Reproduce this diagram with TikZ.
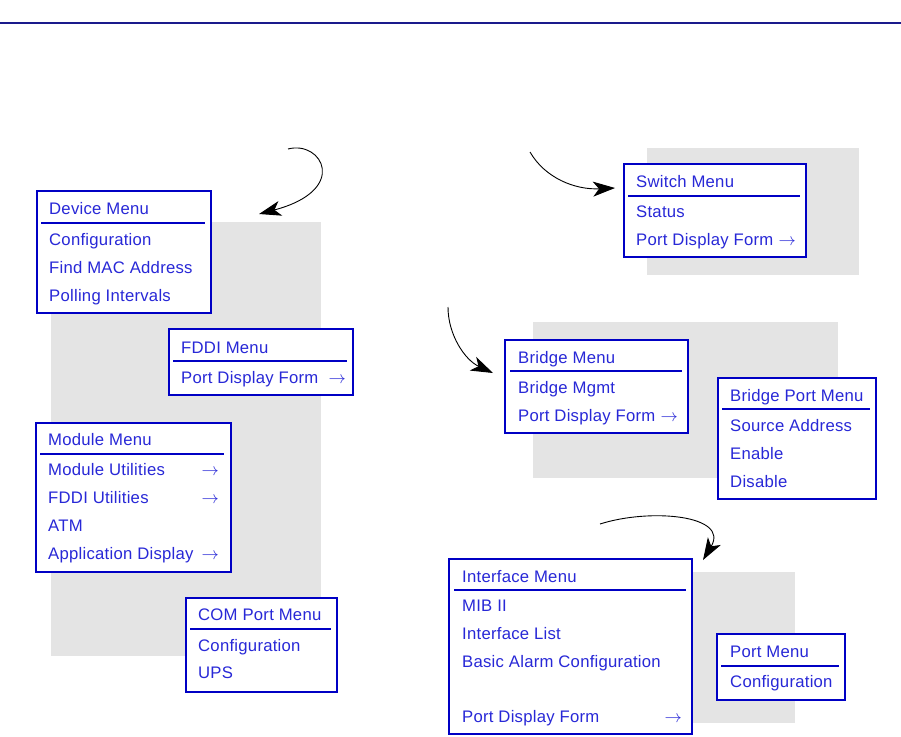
\documentclass[tikz,border=0pt]{standalone}
\usepackage{fontspec}
\setmainfont{Liberation Sans}[LetterSpace=1.5]
\usetikzlibrary{arrows.meta}
\definecolor{menublue}{RGB}{0,0,196}
\definecolor{txtblue}{RGB}{40,40,215}
\definecolor{bggray}{RGB}{228,228,228}
\definecolor{rule}{RGB}{26,26,140}
\newcommand{\mfont}{\fontsize{16.7}{20}\selectfont}
\tikzset{
  menubox/.style={draw=menublue, line width=2pt, fill=white, inner sep=0pt, anchor=north west},
  menusep/.style={draw=menublue, line width=2.2pt},
  mtext/.style={anchor=base west, text=txtblue, inner sep=0pt, font=\mfont},
  marr/.style={anchor=base east, text=txtblue, inner sep=0pt, font=\mfont},
  bgpanel/.style={fill=bggray, draw=none},
  flow/.style={-{Stealth[length=22pt,width=15pt,inset=6pt]}, line width=0.9pt, black}
}
\begin{document}
\begin{tikzpicture}[x=1pt,y=-1pt]
\useasboundingbox (0,0) rectangle (901,736);
\draw[rule, line width=1.2pt] (0,23) -- (901,23);
% gray panels
\fill[bgpanel] (51,222) rectangle (321,656);
\fill[bgpanel] (647,148) rectangle (859,275);
\fill[bgpanel] (533,322) rectangle (838,478);
\fill[bgpanel] (692,572) rectangle (795,723);
% Device Menu
\node[menubox, minimum width=174, minimum height=122] (dev) at (36,190) {};
\node[mtext] (dev0) at (49,214.5) {Device Menu};
\draw[menusep] (41,223) -- (205,223);
\node[mtext] (dev1) at (49,245.5) {Configuration};
\node[mtext] (dev2) at (49,273.5) {Find MAC Address};
\node[mtext] (dev3) at (49,301.5) {Polling Intervals};
% FDDI Menu
\node[menubox, minimum width=184, minimum height=66] (fddi) at (168,328) {};
\node[mtext] (fddi0) at (181,353.5) {FDDI Menu};
\draw[menusep] (173,361) -- (347,361);
\node[mtext] (fddi1) at (181,383.5) {Port Display Form};
\node[marr] (fddia) at (346,383.5) {$\rightarrow$};
% Module Menu
\node[menubox, minimum width=195, minimum height=149] (mod) at (35,422) {};
\node[mtext] (mod0) at (48,445.5) {Module Menu};
\draw[menusep] (40,454) -- (224,454);
\node[mtext] (mod1) at (48,475.5) {Module Utilities};
\node[marr] (moda1) at (219,475.5) {$\rightarrow$};
\node[mtext] (mod2) at (48,503.5) {FDDI Utilities};
\node[marr] (moda2) at (219,503.5) {$\rightarrow$};
\node[mtext] (mod3) at (48,531.5) {ATM};
\node[mtext] (mod4) at (48,559.5) {Application Display};
\node[marr] (moda4) at (219,559.5) {$\rightarrow$};
% COM Port Menu
\node[menubox, minimum width=151, minimum height=94] (com) at (185,597) {};
\node[mtext] (com0) at (198,620.5) {COM Port Menu};
\draw[menusep] (190,629) -- (331,629);
\node[mtext] (com1) at (198,651.5) {Configuration};
\node[mtext] (com2) at (198,678.5) {UPS};
% Switch Menu
\node[menubox, minimum width=182, minimum height=93] (sw) at (623,163) {};
\node[mtext] (sw0) at (636,187.5) {Switch Menu};
\draw[menusep] (628,196) -- (800,196);
\node[mtext] (sw1) at (636,217.5) {Status};
\node[mtext] (sw2) at (636,245.5) {Port Display Form};
\node[marr] (swa) at (796,245.5) {$\rightarrow$};
% Bridge Menu
\node[menubox, minimum width=183, minimum height=93] (br) at (504,339) {};
\node[mtext] (br0) at (518,363.5) {Bridge Menu};
\draw[menusep] (510,371) -- (682,371);
\node[mtext] (br1) at (518,393.5) {Bridge Mgmt};
\node[mtext] (br2) at (518,421.5) {Port Display Form};
\node[marr] (bra) at (678,421.5) {$\rightarrow$};
% Bridge Port Menu
\node[menubox, minimum width=158, minimum height=121] (bp) at (717,377) {};
\node[mtext] (bp0) at (730,401.5) {Bridge Port Menu};
\draw[menusep] (722,409) -- (870,409);
\node[mtext] (bp1) at (730,431.5) {Source Address};
\node[mtext] (bp2) at (730,459.5) {Enable};
\node[mtext] (bp3) at (730,487.5) {Disable};
% Interface Menu
\node[menubox, minimum width=243, minimum height=175] (itf) at (448,558) {};
\node[mtext] (itf0) at (462,582.5) {Interface Menu};
\draw[menusep] (454,590) -- (686,590);
\node[mtext] (itf1) at (462,611.5) {MIB II};
\node[mtext] (itf2) at (462,639.5) {Interface List};
\node[mtext] (itf3) at (462,667.5) {Basic Alarm Configuration};
\node[mtext] (itf4) at (462,722.5) {Port Display Form};
\node[marr] (itfa) at (682,722.5) {$\rightarrow$};
% Port Menu
\node[menubox, minimum width=128, minimum height=66] (pm) at (716,633) {};
\node[mtext] (pm0) at (730,657.5) {Port Menu};
\draw[menusep] (721,666) -- (839,666);
\node[mtext] (pm1) at (730,687.5) {Configuration};
% arrows
\coordinate (a1s) at (288,149);
\coordinate (a1e) at (259,214);
\draw[flow] (a1s) .. controls (322,140) and (350,190) .. (a1e);
\coordinate (a2s) at (530,152);
\coordinate (a2e) at (615,188);
\draw[flow] (a2s) .. controls (545,178) and (575,190) .. (a2e);
\coordinate (a3s) at (448,307);
\coordinate (a3e) at (493,373);
\draw[flow] (a3s) .. controls (448,335) and (465,360) .. (a3e);
\coordinate (a4s) at (600,524);
\coordinate (a4e) at (703,560);
\draw[flow] (a4s) .. controls (650,508) and (730,515) .. (a4e);
\end{tikzpicture}
\end{document}
